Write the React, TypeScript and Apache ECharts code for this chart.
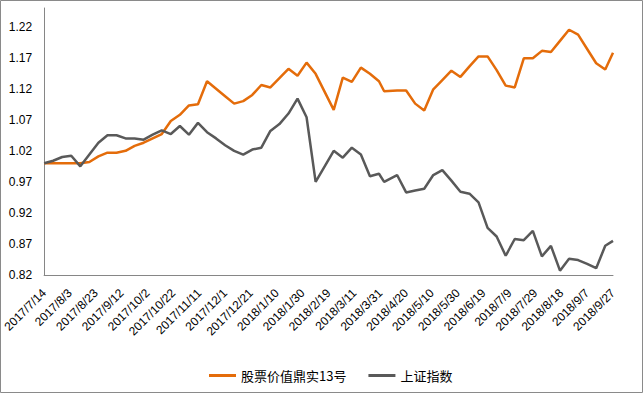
import React, { useEffect, useRef } from "react";
import * as echarts from "echarts";

const startDate = "2017/7/14";
const dates = [
  "2017/7/14", "2017/7/21", "2017/7/28", "2017/8/4", "2017/8/11", "2017/8/18", "2017/8/25",
  "2017/9/1", "2017/9/8", "2017/9/15", "2017/9/22", "2017/9/29", "2017/10/6", "2017/10/13",
  "2017/10/20", "2017/10/27", "2017/11/3", "2017/11/10", "2017/11/17", "2017/11/24", "2017/12/1",
  "2017/12/8", "2017/12/15", "2017/12/22", "2017/12/29", "2018/1/5", "2018/1/12", "2018/1/19",
  "2018/1/26", "2018/2/2", "2018/2/9",
  "2018/2/23", "2018/3/2", "2018/3/9", "2018/3/16", "2018/3/23", "2018/3/30",
  "2018/4/3",
  "2018/4/13", "2018/4/20", "2018/4/27", "2018/5/4", "2018/5/11", "2018/5/18", "2018/5/25",
  "2018/6/1", "2018/6/8", "2018/6/15", "2018/6/22", "2018/6/29", "2018/7/6", "2018/7/13",
  "2018/7/20", "2018/7/27", "2018/8/3", "2018/8/10", "2018/8/17", "2018/8/24", "2018/8/31",
  "2018/9/7", "2018/9/14", "2018/9/21",
  "2018/9/27",
];

const fundValues = [
  1.0, 1.0, 1.0, 1.0, 1.0, 1.002, 1.011, 1.017, 1.017, 1.02, 1.028, 1.033, 1.04, 1.047,
  1.068, 1.078, 1.093, 1.095, 1.132, 1.12, 1.108, 1.096, 1.1, 1.11, 1.126, 1.122, 1.137,
  1.152, 1.141, 1.162, 1.144,
  1.086, 1.138, 1.131, 1.154, 1.144, 1.132,
  1.116,
  1.117, 1.117, 1.096, 1.085, 1.119, 1.134, 1.149, 1.139, 1.156, 1.172, 1.172, 1.15, 1.125,
  1.122, 1.169, 1.169, 1.181, 1.179, 1.197, 1.215, 1.207, 1.184, 1.161, 1.151,
  1.178,
];

const indexValues = [
  1.0, 1.004, 1.01, 1.012, 0.995, 1.014, 1.033, 1.045, 1.045, 1.04, 1.04, 1.038, 1.046, 1.053,
  1.047, 1.06, 1.046, 1.065, 1.05, 1.04, 1.029, 1.02, 1.014, 1.022, 1.025, 1.052, 1.063,
  1.08, 1.104, 1.074, 0.97,
  1.02, 1.009, 1.025, 1.014, 0.979, 0.983,
  0.97,
  0.981, 0.953, 0.956, 0.959, 0.981, 0.989, 0.972, 0.954, 0.951, 0.937, 0.896, 0.882, 0.851,
  0.878, 0.876, 0.891, 0.85, 0.867, 0.827, 0.846, 0.844, 0.838, 0.831, 0.867,
  0.875,
];

const seriesNames = ["股票价值鼎实13号", "上证指数"];
const seriesColors = ["#E46C0A", "#595959"];

const DAY = 86400000;
function toUTC(s: string) {
  const [y, m, d] = s.split("/").map(Number);
  return Date.UTC(y, m - 1, d);
}
const t0 = toUTC(startDate);
const dayOffset = (s: string) => Math.round((toUTC(s) - t0) / DAY);
const fmtDay = (v: number) => {
  const dt = new Date(t0 + Math.round(v) * DAY);
  return `${dt.getUTCFullYear()}/${dt.getUTCMonth() + 1}/${dt.getUTCDate()}`;
};

export default function App() {
  const ref = useRef<HTMLDivElement>(null);
  useEffect(() => {
    if (!ref.current) return;
    const chart = echarts.init(ref.current, null, { renderer: "svg" });
    const xMax = dayOffset(dates[dates.length - 1]);
    const font = "'Liberation Sans', Arial, sans-serif";
    chart.setOption({
      animation: false,
      backgroundColor: "#ffffff",
      graphic: [
        {
          type: "rect",
          shape: { x: 0.5, y: 0.5, width: 642, height: 392 },
          style: { fill: "none", stroke: "#8a8a8a", lineWidth: 1 },
          silent: true,
        },
      ],
      grid: { left: 44, right: 30, top: 8, bottom: 118 },
      legend: {
        left: 204,
        top: 364,
        itemWidth: 27,
        itemHeight: 3,
        itemGap: 22,
        icon: "rect",
        textStyle: { fontSize: 13, color: "#000", fontFamily: "'Noto Sans CJK SC', sans-serif" },
        data: seriesNames,
      },
      xAxis: {
        type: "value",
        min: 0,
        max: xMax,
        interval: 20,
        splitLine: { show: false },
        axisTick: { show: false },
        axisLine: { lineStyle: { color: "#868686", width: 1 } },
        axisLabel: {
          rotate: 45,
          margin: 16,
          fontSize: 12,
          color: "#000",
          fontFamily: font,
          formatter: (v: number) => fmtDay(v),
        },
      },
      yAxis: {
        type: "value",
        min: 0.82,
        max: 1.25,
        interval: 0.05,
        splitLine: { show: false },
        axisTick: { show: false },
        axisLine: { show: true, lineStyle: { color: "#868686", width: 1 } },
        axisLabel: {
          margin: 12,
          fontSize: 12,
          color: "#000",
          fontFamily: font,
          showMaxLabel: false,
          formatter: (v: number) => (v > 1.2201 ? "" : v.toFixed(2)),
        },
      },
      series: [
        {
          name: seriesNames[0],
          type: "line",
          showSymbol: false,
          symbol: "none",
          color: seriesColors[0],
          lineStyle: { width: 2.5, color: seriesColors[0] },
          data: dates.map((d, i) => [dayOffset(d), fundValues[i]]),
        },
        {
          name: seriesNames[1],
          type: "line",
          showSymbol: false,
          symbol: "none",
          color: seriesColors[1],
          lineStyle: { width: 2.5, color: seriesColors[1] },
          data: dates.map((d, i) => [dayOffset(d), indexValues[i]]),
        },
      ],
    });
    return () => chart.dispose();
  }, []);
  return (
    <div
      ref={ref}
      style={{ position: "fixed", left: 0, top: 0, width: 643, height: 393 }}
    />
  );
}
